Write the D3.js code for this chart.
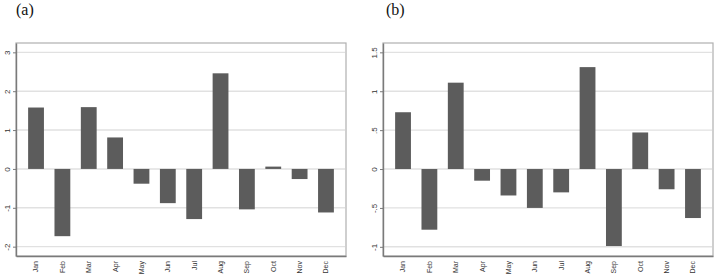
<!DOCTYPE html>
<html>
<head>
<meta charset="utf-8">
<script src="https://cdn.jsdelivr.net/npm/d3@7"></script>
<style>
  body { margin: 0; background: #fff; }
  svg { display: block; }
</style>
</head>
<body>
<div id="chart"></div>
<script>
// meses (eixo X)
const months = ["Jan", "Feb", "Mar", "Apr", "May", "Jun", "Jul", "Aug", "Sep", "Oct", "Nov", "Dec"];

// valores do painel (a)
const valuesA = [1.58, -1.73, 1.59, 0.81, -0.38, -0.88, -1.29, 2.46, -1.04, 0.06, -0.26, -1.12];
const ticksA = [3, 2, 1, 0, -1, -2];
const tickLabelsA = ["3", "2", "1", "0", "-1", "-2"];

// valores do painel (b)
const valuesB = [0.73, -0.78, 1.11, -0.15, -0.34, -0.50, -0.30, 1.31, -0.99, 0.47, -0.26, -0.63];
const ticksB = [1.5, 1, 0.5, 0, -0.5, -1];
const tickLabelsB = ["1.5", "1", ".5", "0", "-.5", "-1"];

const svg = d3.select("#chart").append("svg")
    .attr("width", 714)
    .attr("height", 274);

function drawPanel(opts) {
    const { left, right, top, bottom, values, ticks, labels, domain, letter, letterX } = opts;

    const g = svg.append("g");

    const x = d3.scaleBand()
        .domain(months)
        .range([left, right])
        .paddingInner(0.4)
        .paddingOuter(0.46);

    const y = d3.scaleLinear()
        .domain(domain)
        .range([bottom, top]);

    // letra do painel
    svg.append("text")
        .attr("x", letterX)
        .attr("y", 15)
        .style("font-family", "'Liberation Serif', 'Times New Roman', serif")
        .style("font-size", "16px")
        .attr("fill", "#111")
        .text(letter);

    // moldura (topo e direita)
    g.append("rect")
        .attr("x", left)
        .attr("y", top)
        .attr("width", right - left)
        .attr("height", bottom - top)
        .attr("fill", "none")
        .attr("stroke", "#b0b0b0")
        .attr("stroke-width", 1.2);

    // linhas de grade
    g.selectAll(".grid")
        .data(ticks)
        .join("line")
        .attr("class", "grid")
        .attr("x1", left + 1)
        .attr("x2", right - 1)
        .attr("y1", d => y(d))
        .attr("y2", d => y(d))
        .attr("stroke", "#e1e1e1")
        .attr("stroke-width", 1.4);

    // barras
    g.selectAll(".bar")
        .data(values)
        .join("rect")
        .attr("class", "bar")
        .attr("x", (d, i) => x(months[i]))
        .attr("width", x.bandwidth())
        .attr("y", d => y(Math.max(0, d)))
        .attr("height", d => Math.abs(y(d) - y(0)))
        .attr("fill", "#5c5c5c");

    // eixo Y
    const yAxis = g.append("g")
        .attr("transform", `translate(${left},0)`)
        .call(d3.axisLeft(y).tickValues(ticks).tickFormat((d, i) => labels[i]).tickSize(3).tickSizeOuter(0));
    yAxis.select(".domain").attr("stroke", "#7a7a7a").attr("stroke-width", 1.4);
    yAxis.selectAll(".tick line").attr("stroke", "#7a7a7a");
    yAxis.selectAll(".tick text")
        .attr("transform", "rotate(-90)")
        .attr("x", 0)
        .attr("y", -6)
        .attr("dy", "0")
        .attr("text-anchor", "middle")
        .style("font-family", "'Liberation Sans', Arial, sans-serif")
        .style("font-size", "8px")
        .attr("fill", "#333");

    // eixo X
    const xAxis = g.append("g")
        .attr("transform", `translate(0,${bottom})`)
        .call(d3.axisBottom(x).tickSize(0).tickSizeOuter(0));
    xAxis.select(".domain").attr("stroke", "#7a7a7a").attr("stroke-width", 1.4);
    xAxis.selectAll(".tick text")
        .attr("transform", "rotate(-90)")
        .attr("x", -5)
        .attr("y", 0)
        .attr("dy", "0.35em")
        .attr("text-anchor", "end")
        .style("font-family", "'Liberation Sans', Arial, sans-serif")
        .style("font-size", "7px")
        .attr("fill", "#333");
}

drawPanel({
    left: 16, right: 346, top: 43, bottom: 256,
    values: valuesA, ticks: ticksA, labels: tickLabelsA,
    domain: [-2.24, 3.24], letter: "(a)", letterX: 16
});

drawPanel({
    left: 383, right: 713, top: 43, bottom: 256,
    values: valuesB, ticks: ticksB, labels: tickLabelsB,
    domain: [-1.118, 1.62], letter: "(b)", letterX: 386
});
</script>
</body>
</html>
